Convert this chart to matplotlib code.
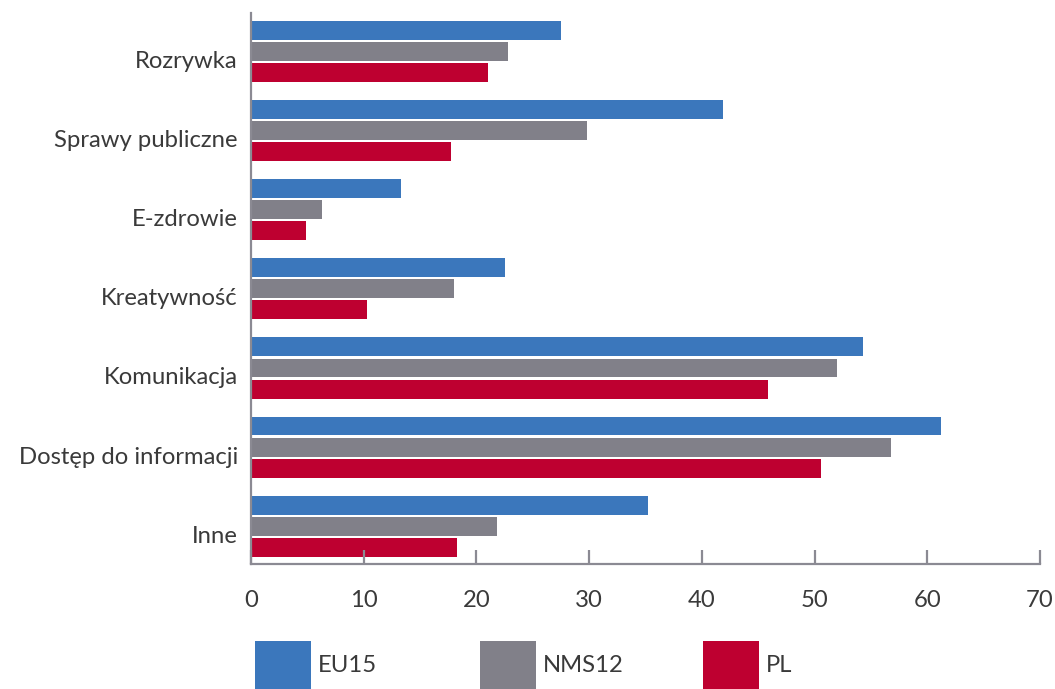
import matplotlib
matplotlib.use("Agg")
import matplotlib.pyplot as plt
import matplotlib.patches as mpatches
import matplotlib.transforms as mtransforms
from matplotlib import font_manager
import numpy as np

categories = ['Rozrywka', 'Sprawy publiczne', 'E-zdrowie', 'Kreatywność',
              'Komunikacja', 'Dostęp do informacji', 'Inne']
eu15 = [27.5, 41.9, 13.3, 22.5, 54.3, 61.2, 35.2]
nms12 = [22.8, 29.8, 6.3, 18.0, 52.0, 56.8, 21.8]
pl = [21.0, 17.7, 4.9, 10.3, 45.9, 50.6, 18.3]
series_names = ['EU15', 'NMS12', 'PL']
xticks = [0, 10, 20, 30, 40, 50, 60, 70]

colors = ['#3b77bc', '#818089', '#be0030']
axis_color = '#8b8a93'
text_color = '#3a3a3a'

installed = {f.name for f in font_manager.fontManager.ttflist}
family = 'Lato' if 'Lato' in installed else 'DejaVu Sans'
plt.rcParams['font.family'] = [family, 'DejaVu Sans']
fs = 17.2

fig = plt.figure(figsize=(10.55, 6.89), dpi=100)
ax = fig.add_axes([0.238, 0.1814, 0.7478, 0.7996])

n = len(categories)
y = np.arange(n)[::-1]
bar_h = 0.24
step = 0.266
for k, (vals, col) in enumerate(zip([eu15, nms12, pl], colors)):
    ax.barh(y + (1 - k) * step, vals, height=bar_h, color=col, linewidth=0)

ax.set_xlim(0, 70)
ax.set_ylim(-0.48, n - 1 + 0.49)
ax.set_xticks(xticks)
ax.set_yticks(y)
ax.set_yticklabels(categories)

for s in ['top', 'right']:
    ax.spines[s].set_visible(False)
for s in ['left', 'bottom']:
    ax.spines[s].set_color(axis_color)
    ax.spines[s].set_linewidth(1.6)

ax.tick_params(axis='x', direction='in', length=10, width=1.6, color=axis_color,
               pad=19, labelsize=fs, labelcolor=text_color)
ax.tick_params(axis='y', length=0, pad=9.5, labelsize=fs, labelcolor=text_color)

# category labels sit a little below the group centre in the original
shift = mtransforms.ScaledTranslation(0, -8 / 100, fig.dpi_scale_trans)
for lab in ax.get_yticklabels():
    lab.set_transform(lab.get_transform() + shift)

# legend: three separate entries at fixed positions, boxes run off the bottom
legend_x = [255, 480, 703]
for name, col, lx in zip(series_names, colors, legend_x):
    h = mpatches.Patch(color=col, linewidth=0)
    fig.legend([h], [name], loc='upper left',
               bbox_to_anchor=(lx / 1055, 1 - 641 / 689),
               frameon=False, fontsize=fs, borderpad=0, borderaxespad=0,
               handlelength=2.34, handleheight=2.76, handletextpad=0.3,
               labelcolor=text_color)

fig.savefig('out.png', dpi=100)
